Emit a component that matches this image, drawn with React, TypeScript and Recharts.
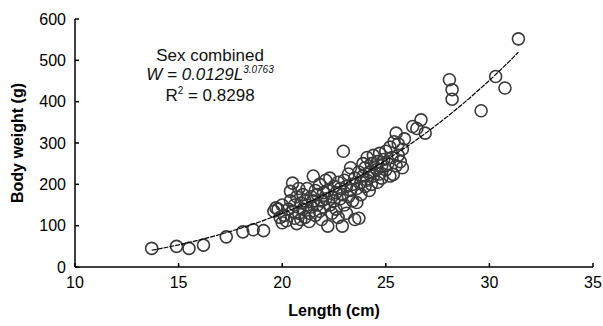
import { ScatterChart, Scatter, XAxis, YAxis } from "recharts"

// scatter points: length (cm) / body weight (g)
const lengths = [
  13.7, 14.9, 15.5, 16.2, 17.3, 18.1, 18.6, 19.1,
  19.6, 19.7, 19.8, 19.9, 20.0, 20.0, 20.1, 20.2, 20.3, 20.4, 20.4, 20.5, 20.5, 20.6, 20.6, 20.7, 20.7, 20.8, 20.8, 20.9, 20.9,
  21.0, 21.0, 21.1, 21.1, 21.2, 21.2, 21.3, 21.3, 21.4, 21.4, 21.5, 21.5, 21.6, 21.6, 21.7, 21.7, 21.8, 21.8, 21.9, 21.9, 22.0, 22.0,
  22.1, 22.1, 22.2, 22.2, 22.3, 22.3, 22.4, 22.4, 22.5, 22.5, 22.6, 22.6, 22.7, 22.7, 22.8, 22.8, 22.9, 22.9, 22.95, 23.0, 23.0,
  23.1, 23.1, 23.2, 23.2, 23.3, 23.3, 23.4, 23.4, 23.5, 23.5, 23.6, 23.6, 23.7, 23.7, 23.8, 23.8, 23.9, 23.9, 24.0, 24.0,
  24.1, 24.1, 24.2, 24.2, 24.3, 24.3, 24.4, 24.4, 24.5, 24.56, 24.6, 24.6, 24.7, 24.7, 24.8, 24.8, 24.9, 25.0, 25.0,
  25.1, 25.2, 25.2, 25.3, 25.36, 25.4, 25.5, 25.5, 25.6, 25.6, 25.7, 25.8, 25.8, 25.9,
  26.3, 26.5, 26.7, 26.9, 28.07, 28.2, 28.2, 29.6, 30.3, 30.75, 31.4,
]
const weights = [
  45, 50, 45, 53, 73, 85, 90, 88,
  135, 143, 140, 120, 107, 150, 125, 112, 140, 160, 183, 135, 203, 118, 150, 170, 105, 190, 130, 155, 115,
  140, 175, 120, 160, 150, 190, 130, 110, 170, 145, 220, 160, 125, 185, 150, 175, 135, 200, 160, 115, 180, 145,
  165, 210, 99, 185, 215, 150, 170, 130, 195, 160, 180, 140, 205, 120, 190, 165, 99, 175, 280, 210, 150,
  195, 130, 225, 170, 185, 240, 200, 160, 115, 215, 156, 190, 118, 230, 205, 175, 220, 250, 195, 240,
  210, 265, 185, 230, 250, 200, 220, 270, 240, 236, 205, 255, 225, 275, 245, 215, 260, 235, 280,
  250, 290, 220, 265, 224, 303, 245, 324, 298, 270, 255, 240, 285, 310,
  340, 335, 356, 324, 453, 429, 406, 378, 461, 433, 552,
]

// power trendline as drawn in the figure
const trendL = [13.7, 14, 15, 16, 17, 18, 19, 20, 21, 22, 23, 24, 25, 26, 27, 28, 29, 30, 31, 31.4]
const trendW = [40.5, 43.3, 53.5, 65.3, 78.7, 93.7, 110.7, 129.8, 150.6, 173.8, 199.3, 227.2, 258, 290.6, 326.4, 365, 406.6, 451.3, 499.2, 520]

const xTicks = [10, 15, 20, 25, 30, 35]
const yTicks = [0, 100, 200, 300, 400, 500, 600]

const points = lengths.map((l, i) => ({ l, w: weights[i] }))
const trend = trendL.map((l, i) => ({ l, w: trendW[i] }))

const font = "'Liberation Sans', Arial, sans-serif"

const Ring = (props: any) => (
  <circle cx={props.cx} cy={props.cy} r={6} fill="none" stroke="#3a3a3a" strokeWidth={1.6} />
)

export default function App() {
  return (
    <div style={{ position: "absolute", left: 0, top: 0, width: 603, height: 326, background: "#fff", fontFamily: font }}>
      <ScatterChart width={603} height={326} margin={{ top: 19, right: 10, bottom: 29, left: 0 }}>
        <XAxis
          type="number"
          dataKey="l"
          domain={[10, 35]}
          ticks={xTicks}
          height={30}
          stroke="#000"
          strokeWidth={1.5}
          tickSize={-4}
          tickMargin={14}
          tick={{ fill: "#000", fontSize: 16, fontFamily: font }}
          label={{ value: "Length (cm)", position: "bottom", offset: 8, style: { fill: "#000", fontSize: 16, fontWeight: "bold", fontFamily: font } }}
        />
        <YAxis
          type="number"
          dataKey="w"
          domain={[0, 600]}
          ticks={yTicks}
          width={75}
          stroke="#000"
          strokeWidth={1.5}
          tickSize={-4}
          tickMargin={13}
          tick={{ fill: "#000", fontSize: 16, fontFamily: font }}
          label={{
            content: (p: any) => {
              const vb = p.viewBox || { y: 19, height: 248 }
              const cx = 17
              const cy = vb.y + vb.height / 2
              return (
                <text x={cx} y={cy} transform={`rotate(-90 ${cx} ${cy})`} textAnchor="middle" dominantBaseline="central"
                  style={{ fill: "#000", fontSize: 16, fontWeight: "bold", fontFamily: font }}>
                  Body weight (g)
                </text>
              )
            },
          }}
        />
        <Scatter data={points} shape={Ring} isAnimationActive={false} />
        <Scatter data={trend} shape={() => null} line={{ stroke: "#000", strokeWidth: 1.2, strokeDasharray: "5 1" }} lineJointType="linear" isAnimationActive={false} />
      </ScatterChart>
      <div style={{ position: "absolute", left: 110, top: 46, width: 200, textAlign: "center", fontSize: 17, lineHeight: "19px", color: "#111" }}>
        <div>Sex combined</div>
        <div style={{ fontStyle: "italic" }}>
          W = 0.0129L<span style={{ fontSize: 10, position: "relative", top: -7 }}>3.0763</span>
        </div>
        <div>
          R<span style={{ fontSize: 10, position: "relative", top: -7 }}>2</span> = 0.8298
        </div>
      </div>
    </div>
  )
}
